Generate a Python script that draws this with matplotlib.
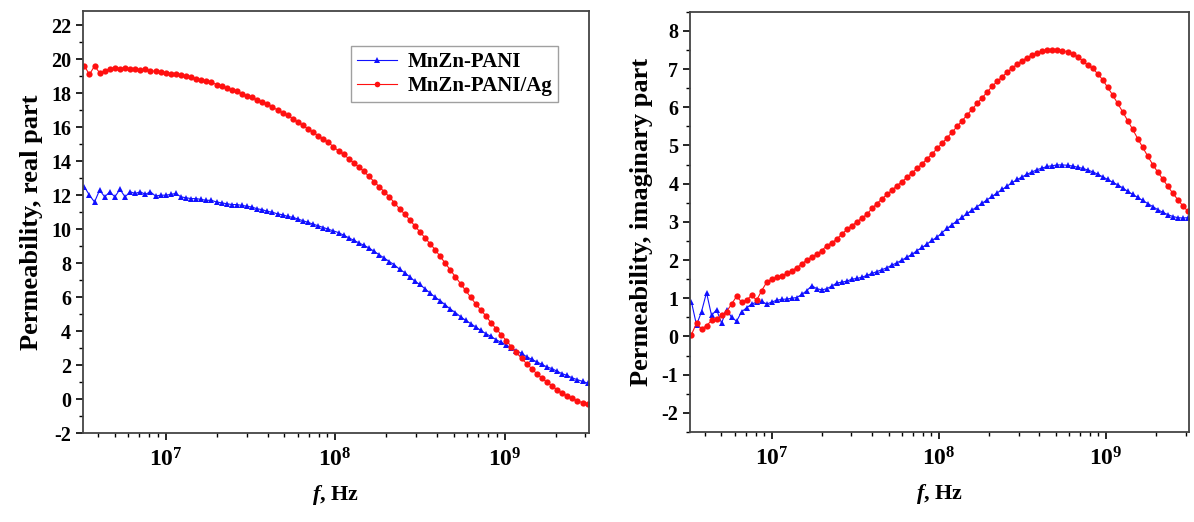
import numpy as np
import matplotlib.pyplot as plt
from matplotlib.ticker import MultipleLocator, LogLocator, FuncFormatter, NullFormatter

plt.rcParams['font.family'] = 'Liberation Serif'
plt.rcParams['font.weight'] = 'bold'
plt.rcParams['axes.unicode_minus'] = False
plt.rcParams['mathtext.fontset'] = 'custom'
plt.rcParams['mathtext.rm'] = 'Liberation Serif:bold'
plt.rcParams['mathtext.bf'] = 'Liberation Serif:bold'
plt.rcParams['mathtext.it'] = 'Liberation Serif:italic:bold'

# sweep frequencies, log10(f / Hz)
log_freq = [6.52, 6.55, 6.58, 6.61, 6.64, 6.67, 6.70, 6.73, 6.76, 6.79,
            6.82, 6.85, 6.88, 6.91, 6.94, 6.97, 7.00, 7.03, 7.06, 7.09,
            7.12, 7.15, 7.18, 7.21, 7.24, 7.27, 7.30, 7.33, 7.36, 7.39,
            7.42, 7.45, 7.48, 7.51, 7.54, 7.57, 7.60, 7.63, 7.66, 7.69,
            7.72, 7.75, 7.78, 7.81, 7.84, 7.87, 7.90, 7.93, 7.96, 7.99,
            8.02, 8.05, 8.08, 8.11, 8.14, 8.17, 8.20, 8.23, 8.26, 8.29,
            8.32, 8.35, 8.38, 8.41, 8.44, 8.47, 8.50, 8.53, 8.56, 8.59,
            8.62, 8.65, 8.68, 8.71, 8.74, 8.77, 8.80, 8.83, 8.86, 8.89,
            8.92, 8.95, 8.98, 9.01, 9.04, 9.07, 9.10, 9.13, 9.16, 9.19,
            9.22, 9.25, 9.28, 9.31, 9.34, 9.37, 9.40, 9.43, 9.46, 9.49]

# real part
mu_re_pani = [12.5, 12.0, 11.6, 12.3, 11.9, 12.2, 11.9, 12.35, 11.9, 12.2,
              12.1, 12.2, 12.05, 12.2, 11.95, 12.0, 12.0, 12.05, 12.1, 11.9,
              11.85, 11.8, 11.8, 11.75, 11.7, 11.7, 11.6, 11.55, 11.5, 11.45,
              11.45, 11.4, 11.35, 11.3, 11.2, 11.15, 11.05, 11.0, 10.9, 10.85,
              10.75, 10.7, 10.6, 10.5, 10.4, 10.3, 10.2, 10.1, 10.0, 9.9,
              9.8, 9.65, 9.5, 9.35, 9.2, 9.05, 8.9, 8.7, 8.5, 8.3,
              8.1, 7.9, 7.65, 7.45, 7.2, 6.95, 6.75, 6.5, 6.25, 6.0,
              5.8, 5.55, 5.3, 5.1, 4.85, 4.65, 4.45, 4.25, 4.05, 3.85,
              3.7, 3.5, 3.35, 3.2, 3.0, 2.85, 2.7, 2.5, 2.35, 2.2,
              2.05, 1.9, 1.8, 1.65, 1.5, 1.4, 1.25, 1.15, 1.05, 0.95]
mu_re_ag = [19.6, 19.1, 19.6, 19.2, 19.3, 19.45, 19.5, 19.45, 19.5, 19.4,
            19.45, 19.35, 19.4, 19.3, 19.3, 19.25, 19.2, 19.15, 19.15, 19.05,
            19.0, 18.95, 18.85, 18.75, 18.7, 18.65, 18.5, 18.4, 18.3, 18.2,
            18.1, 17.95, 17.85, 17.75, 17.6, 17.5, 17.35, 17.2, 17.0, 16.85,
            16.7, 16.5, 16.3, 16.1, 15.9, 15.7, 15.5, 15.3, 15.1, 14.85,
            14.6, 14.4, 14.15, 13.9, 13.65, 13.4, 13.1, 12.8, 12.5, 12.2,
            11.9, 11.55, 11.2, 10.9, 10.55, 10.2, 9.85, 9.5, 9.15, 8.8,
            8.4, 8.0, 7.6, 7.2, 6.8, 6.4, 6.0, 5.6, 5.25, 4.9,
            4.5, 4.15, 3.8, 3.45, 3.1, 2.75, 2.4, 2.1, 1.8, 1.5,
            1.25, 1.0, 0.8, 0.55, 0.35, 0.2, 0.05, -0.1, -0.2, -0.3]

# imaginary part
mu_im_pani = [0.9, 0.3, 0.65, 1.15, 0.55, 0.7, 0.35, 0.7, 0.5, 0.4,
              0.65, 0.75, 0.85, 0.9, 0.92, 0.85, 0.9, 0.95, 0.97, 0.98,
              1.0, 1.02, 1.1, 1.2, 1.33, 1.25, 1.22, 1.25, 1.32, 1.4,
              1.42, 1.45, 1.5, 1.52, 1.55, 1.6, 1.65, 1.7, 1.75, 1.8,
              1.87, 1.93, 2.0, 2.08, 2.15, 2.25, 2.33, 2.42, 2.52, 2.6,
              2.72, 2.83, 2.93, 3.03, 3.12, 3.22, 3.31, 3.4, 3.49, 3.58,
              3.67, 3.76, 3.85, 3.94, 4.03, 4.11, 4.18, 4.25, 4.31, 4.37,
              4.41, 4.45, 4.47, 4.49, 4.49, 4.48, 4.46, 4.43, 4.4, 4.36,
              4.31, 4.25, 4.18, 4.11, 4.04, 3.97, 3.89, 3.8, 3.72, 3.64,
              3.56, 3.48, 3.4, 3.32, 3.25, 3.19, 3.14, 3.11, 3.1, 3.11]
mu_im_ag = [0.05, 0.35, 0.2, 0.28, 0.42, 0.45, 0.55, 0.65, 0.85, 1.05,
            0.9, 0.95, 1.08, 0.95, 1.2, 1.42, 1.5, 1.55, 1.58, 1.65,
            1.72, 1.8, 1.9, 2.0, 2.08, 2.15, 2.25, 2.38, 2.45, 2.55,
            2.68, 2.8, 2.9, 3.0, 3.1, 3.2, 3.35, 3.48, 3.6, 3.72,
            3.83, 3.95, 4.05, 4.17, 4.28, 4.4, 4.52, 4.65, 4.78, 4.92,
            5.06, 5.2, 5.35, 5.5, 5.65, 5.8, 5.95, 6.1, 6.25, 6.4,
            6.55, 6.68, 6.8, 6.92, 7.03, 7.13, 7.22, 7.3, 7.37, 7.42,
            7.46, 7.49, 7.5, 7.5, 7.48, 7.45, 7.4, 7.32, 7.22, 7.1,
            7.02, 6.88, 6.72, 6.52, 6.32, 6.1, 5.88, 5.65, 5.42, 5.18,
            4.95, 4.72, 4.5, 4.3, 4.12, 3.93, 3.75, 3.58, 3.42, 3.28]

labels = ['MnZn-PANI', 'MnZn-PANI/Ag']
freq = 10 ** np.array(log_freq)


def decade_label(v, pos):
    return r'$\mathbf{10^{%d}}$' % round(np.log10(v))


def style_axis(ax, ylim, major, minor, ylabel):
    ax.set_xscale('log')
    ax.set_xlim(3.25e6, 3.15e9)
    ax.set_ylim(*ylim)
    ax.yaxis.set_major_locator(MultipleLocator(major))
    ax.yaxis.set_minor_locator(MultipleLocator(minor))
    ax.xaxis.set_major_locator(LogLocator(base=10, numticks=12))
    ax.xaxis.set_minor_locator(LogLocator(base=10, subs=np.arange(2, 10), numticks=12))
    ax.xaxis.set_minor_formatter(NullFormatter())
    ax.xaxis.set_major_formatter(FuncFormatter(decade_label))
    ax.tick_params(which='major', direction='out', length=5, width=1.2, labelsize=14.5)
    ax.tick_params(which='minor', direction='out', length=3, width=1.0)
    ax.tick_params(axis='x', which='major', labelsize=17, pad=6)
    plt.setp(ax.get_yticklabels(), fontweight='bold')
    for s in ax.spines.values():
        s.set_color('#444444')
        s.set_linewidth(1.3)
    ax.set_ylabel(ylabel, fontsize=19, fontweight='bold', labelpad=6)
    ax.set_xlabel(r'$\mathit{f}$, Hz', fontsize=16, fontweight='bold', labelpad=8)


fig = plt.figure(figsize=(11.94, 5.22), dpi=100)
ax1 = fig.add_axes([0.0695, 0.170, 0.4238, 0.8095])
ax2 = fig.add_axes([0.578, 0.1724, 0.418, 0.8052])

ax1.plot(freq, mu_re_pani, color='#1010ff', marker='^', ms=5, mew=0, lw=0.8, label=labels[0])
ax1.plot(freq, mu_re_ag, color='#ff1010', marker='o', ms=4.5, mew=0, lw=0.8, label=labels[1])
style_axis(ax1, (-2, 22.85), 2, 1, 'Permeability, real part')

ax2.plot(freq, mu_im_pani, color='#1010ff', marker='^', ms=5, mew=0, lw=0.8)
ax2.plot(freq, mu_im_ag, color='#ff1010', marker='o', ms=4.5, mew=0, lw=0.8)
style_axis(ax2, (-2.5, 8.5), 1, 0.5, 'Permeability, imaginary part')

leg = ax1.legend(loc='upper right', bbox_to_anchor=(0.96, 0.942), fontsize=15,
                 fancybox=False, edgecolor='#888888', markerscale=0.9,
                 handlelength=1.9, handletextpad=0.5, borderpad=0.3,
                 labelspacing=0.2)
leg.get_frame().set_linewidth(1.0)

fig.savefig('out.png', dpi=100)
